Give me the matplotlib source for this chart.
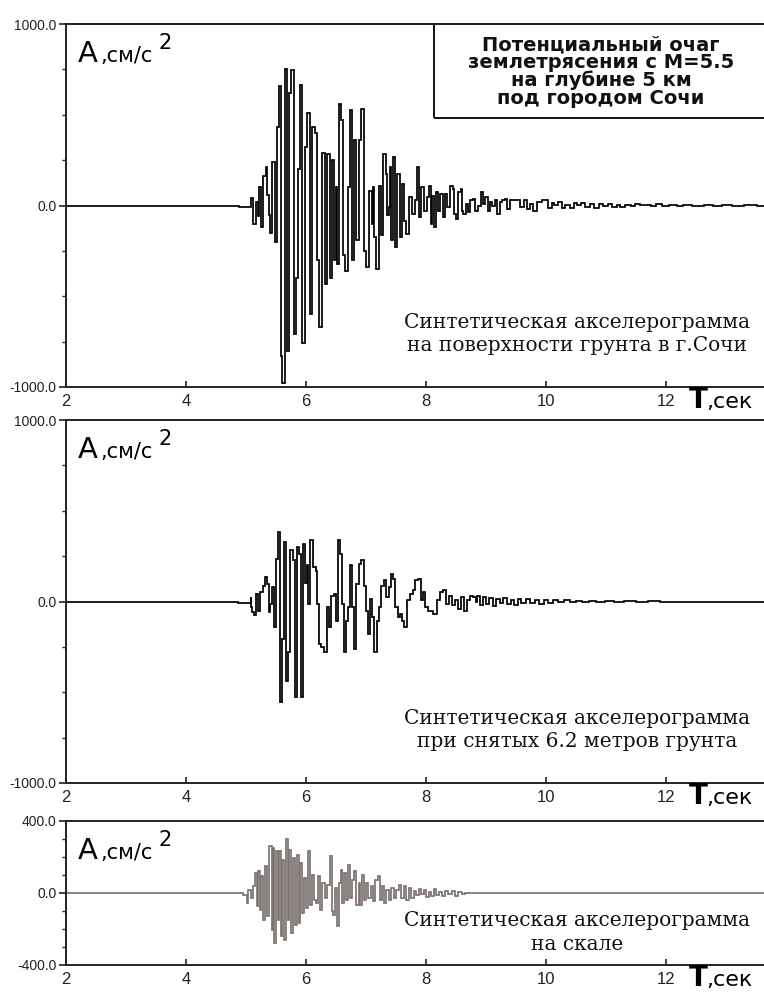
import matplotlib
matplotlib.use("Agg")
import matplotlib.pyplot as plt
from matplotlib.patches import Rectangle

# ---------------- data ----------------
# Trace 1: synthetic accelerogram at the ground surface in Sochi
t_surface = [2.00, 4.87, 4.88, 5.08, 5.09, 5.15, 5.18, 5.21, 5.23, 5.27, 5.31, 5.34, 5.36, 5.39,
             5.42, 5.46, 5.50, 5.54, 5.57, 5.59, 5.62, 5.67, 5.71, 5.73, 5.78, 5.82, 5.84, 5.88,
             5.91, 5.96, 6.00, 6.04, 6.08, 6.12, 6.17, 6.19, 6.23, 6.29, 6.33, 6.38, 6.42, 6.45,
             6.48, 6.51, 6.53, 6.57, 6.60, 6.62, 6.68, 6.71, 6.74, 6.79, 6.82, 6.86, 6.90, 6.94,
             6.98, 7.02, 7.08, 7.11, 7.12, 7.15, 7.19, 7.23, 7.26, 7.31, 7.34, 7.36, 7.39, 7.41,
             7.43, 7.46, 7.49, 7.54, 7.58, 7.61, 7.65, 7.69, 7.73, 7.79, 7.83, 7.87, 7.90, 7.94,
             7.98, 8.04, 8.07, 8.09, 8.12, 8.14, 8.18, 8.22, 8.26, 8.29, 8.33, 8.37, 8.43, 8.46,
             8.48, 8.51, 8.57, 8.59, 8.60, 8.64, 8.68, 8.72, 8.76, 8.79, 8.84, 8.89, 8.93, 8.97,
             9.01, 9.04, 9.08, 9.12, 9.17, 9.21, 9.24, 9.29, 9.33, 9.37, 9.43, 9.51, 9.62, 9.65,
             9.71, 9.76, 9.82, 9.87, 9.98, 10.07, 10.12, 10.16, 10.25, 10.28, 10.36, 10.44, 10.48,
             10.55, 10.60, 10.70, 10.76, 10.85, 10.90, 11.00, 11.05, 11.15, 11.22, 11.26, 11.38,
             11.45, 11.52, 11.62, 11.70, 11.80, 11.86, 12.00, 12.10, 12.25, 12.33, 12.55, 12.70,
             12.85, 13.00, 13.20, 13.40, 13.63]
a_surface = [0, 0, -10, -10, 40, -100, 20, -60, 100, -120, 160, 210, 60, -50,
             -150, 240, -200, 430, 660, -830, -980, 750, -800, 620, 745, -710, -400, 200,
             663, -760, 320, 510, -600, 433, 400, -300, -670, 290, -430, 285, -400, 250,
             -300, 100, -320, 560, 470, -270, -360, 100, 525, -300, 360, -190, 360, 534,
             -250, -340, 80, -100, 100, -175, -350, 110, -160, 285, 175, -50, -10, 210,
             -190, 267, -230, 175, -175, 120, -83, -157, 46, -46, 28, 212, -64, 101,
             -28, 46, 110, -100, 50, -120, 74, -28, 64, -64, 64, -9, 110, 90,
             -46, -74, 74, 90, -30, -46, 9, -37, 28, 37, -28, 0, 74, 9,
             46, -28, 18, 0, 28, -46, 18, 28, 37, -18, 31, 28, -9, 28,
             -18, 9, -28, 18, 28, -13, 15, 2, 20, -15, 4, -12, 15,
             3, 12, -8, 6, -14, 8, -2, 10, -6, 5, -10, 1,
             -4, 8, 2, 5, -3, 6, -1, 3, -3, 4, 0, 3,
             -2, 2, -1, 1, 0]

# Trace 2: after removing 6.2 m of soil
t_stripped = [2.00, 4.87, 4.871, 5.07, 5.08, 5.09, 5.12, 5.15, 5.19, 5.22, 5.26, 5.29, 5.33, 5.37,
              5.38, 5.41, 5.44, 5.48, 5.52, 5.56, 5.58, 5.62, 5.65, 5.69, 5.72, 5.76, 5.79, 5.83,
              5.87, 5.90, 5.94, 5.97, 6.01, 6.03, 6.05, 6.09, 6.15, 6.18, 6.20, 6.23, 6.28, 6.32,
              6.37, 6.40, 6.44, 6.48, 6.51, 6.54, 6.58, 6.62, 6.65, 6.69, 6.72, 6.74, 6.79, 6.82,
              6.86, 6.90, 6.94, 6.98, 7.01, 7.05, 7.08, 7.11, 7.16, 7.19, 7.23, 7.28, 7.32, 7.36,
              7.39, 7.43, 7.47, 7.51, 7.54, 7.58, 7.62, 7.66, 7.71, 7.76, 7.80, 7.84, 7.89, 7.93,
              7.97, 8.01, 8.06, 8.09, 8.15, 8.21, 8.26, 8.32, 8.36, 8.40, 8.46, 8.50, 8.56, 8.61,
              8.67, 8.71, 8.76, 8.82, 8.84, 8.87, 8.92, 8.97, 9.02, 9.08, 9.14, 9.20, 9.26, 9.32,
              9.38, 9.44, 9.50, 9.56, 9.62, 9.70, 9.78, 9.85, 9.92, 10.00, 10.08, 10.16, 10.25,
              10.35, 10.45, 10.55, 10.65, 10.78, 10.90, 11.05, 11.20, 11.40, 11.60, 11.80, 12.00,
              13.63]
a_stripped = [0, 0, -9, -9, 24, -31, -59, -77, 42, -50, 52, 88, 134, 98,
              -59, -13, 79, -142, 236, 383, -556, -206, 328, -436, -280, 282, 226, -528,
              300, 263, -528, 319, 100, 200, -13, 337, 190, 170, -13, -234, -252, -280,
              -31, -142, 33, 42, -105, 337, 263, -13, -280, -105, -31, 199, -31, -262,
              98, 208, 227, 88, -50, -179, 15, -87, -280, -105, -31, 88, 116, 24,
              79, 153, 125, -31, -87, -68, -105, -142, 6, 42, 61, 116, 125, 6,
              52, -31, -50, -50, -68, 6, 52, 61, -13, 33, -22, 6, -41, 24,
              -50, 6, 33, 24, -4, 33, -20, 25, -15, 20, -25, 15, -10, 20,
              -15, 10, -20, 12, -8, 15, -10, 8, -12, 10, -6, 8, -5,
              6, -4, 5, -3, 4, -3, 3, -2, 2, -2, 1, 0,
              0]

# Trace 3: at the bedrock
t_rock = [2.00, 4.95, 4.96, 5.01, 5.02, 5.06, 5.09, 5.13, 5.17, 5.19, 5.22, 5.24, 5.27, 5.30,
          5.33, 5.37, 5.41, 5.44, 5.46, 5.48, 5.51, 5.54, 5.57, 5.59, 5.62, 5.65, 5.68, 5.71,
          5.73, 5.77, 5.80, 5.83, 5.86, 5.89, 5.92, 5.94, 5.98, 6.01, 6.05, 6.08, 6.11, 6.14,
          6.18, 6.22, 6.25, 6.29, 6.33, 6.37, 6.42, 6.43, 6.47, 6.50, 6.52, 6.57, 6.59, 6.62,
          6.65, 6.69, 6.72, 6.75, 6.79, 6.82, 6.86, 6.89, 6.92, 6.96, 6.98, 7.02, 7.06, 7.09,
          7.13, 7.18, 7.22, 7.24, 7.29, 7.32, 7.36, 7.40, 7.44, 7.48, 7.52, 7.57, 7.61, 7.65,
          7.69, 7.73, 7.78, 7.82, 7.86, 7.90, 7.94, 7.98, 8.02, 8.07, 8.11, 8.15, 8.19, 8.23,
          8.29, 8.34, 8.40, 8.46, 8.51, 8.57, 8.62, 8.68, 13.63]
a_rock = [0, 0, -9, -9, -56, 19, -28, 37, 111, -74, 120, -93, 93, -148,
          148, -130, 259, -204, 250, -278, 231, -148, 231, -241, 185, -259, 300, -148,
          241, -222, 194, -176, 213, -167, 167, -111, 83, -83, 231, -65, 102, -37,
          -56, 93, -93, 56, -28, 46, 204, -102, -120, 28, -185, 56, 126, -56,
          111, -37, 157, -28, 74, 120, -65, 56, -65, 102, -37, 56, -28, 37,
          -46, 74, 93, -37, 37, -56, 19, -37, 28, -28, 19, 46, -28, 37,
          -37, 28, -30, 10, -12, 25, -8, 18, -22, 5, -15, 20, -10, 8,
          -18, 12, -5, 10, -14, 6, -8, 0, 0]

x_ticks = [2, 4, 6, 8, 10, 12]
x_ticklabels = ["2", "4", "6", "8", "10", "12"]
ylim_big = 1000.0
ylim_small = 400.0

header_lines = ["Потенциальный очаг", "землетрясения с M=5.5",
                "на глубине 5 км", "под городом Сочи"]
captions = [["Синтетическая акселерограмма", "на поверхности грунта в г.Сочи"],
            ["Синтетическая акселерограмма", "при снятых 6.2 метров грунта"],
            ["Синтетическая акселерограмма", "на скале"]]

# ---------------- layout ----------------
W, H = 764, 992
fig = plt.figure(figsize=(W / 100, H / 100), dpi=100)
fig.patch.set_facecolor("white")

NUM = ["Liberation Sans", "DejaVu Sans"]
SANS = ["DejaVu Sans"]
SERIF = ["DejaVu Serif", "Liberation Serif"]

def px_axes(left, top, right, bottom):
    return fig.add_axes([left / W, 1 - bottom / H, (right - left) / W, (bottom - top) / H])

panels = [
    dict(box=(66, 24, 764, 387), t=t_surface, a=a_surface, lim=ylim_big, color="black",
         minor=250, cap=captions[0], capy=(0.179, 0.113)),
    dict(box=(66, 420, 764, 783), t=t_stripped, a=a_stripped, lim=ylim_big, color="black",
         minor=250, cap=captions[1], capy=(0.179, 0.113)),
    dict(box=(66, 821, 764, 965), t=t_rock, a=a_rock, lim=ylim_small, color="#7b7371",
         minor=100, cap=captions[2], capy=(0.3125, 0.139)),
]

for i, p in enumerate(panels):
    ax = px_axes(*p["box"])
    ax.set_facecolor("white")
    ax.plot(p["t"], p["a"], color=p["color"], lw=1.25, drawstyle="steps-mid",
            solid_joinstyle="miter")
    ax.set_xlim(2, 2 + (764 - 66) / 60)
    lim = p["lim"]
    ax.set_ylim(-lim, lim)
    ax.spines["right"].set_visible(False)
    for s in ["left", "top", "bottom"]:
        ax.spines[s].set_linewidth(1.4)
        ax.spines[s].set_color("#222222")
    ax.set_xticks(x_ticks)
    ax.set_xticklabels(x_ticklabels, fontfamily=NUM, fontsize=12)
    ax.tick_params(axis="x", direction="in", length=4, width=1.2, pad=5, colors="#222222")
    ax.set_yticks([lim, 0, -lim])
    ax.set_yticklabels([f"{lim:.1f}", "0.0", f"{-lim:.1f}"], fontfamily=NUM, fontsize=10)
    ax.set_yticks([v for v in (-3 * p["minor"], -2 * p["minor"], -p["minor"],
                               p["minor"], 2 * p["minor"], 3 * p["minor"]) if abs(v) < lim],
                  minor=True)
    ax.tick_params(axis="y", which="major", direction="out", length=5, width=1.2, pad=2,
                   colors="#222222")
    ax.tick_params(axis="y", which="minor", direction="out", length=3, width=1.0,
                   colors="#222222")

    # A, cm/s^2 label
    ax.annotate("A", xy=(0, 1), xycoords="axes fraction", xytext=(12, -38),
                textcoords="offset pixels", fontsize=21, fontfamily=SANS, va="baseline",
                ha="left")
    ax.annotate(",см/с", xy=(0, 1), xycoords="axes fraction", xytext=(34, -38),
                textcoords="offset pixels", fontsize=15, fontfamily=SANS, va="baseline",
                ha="left")
    ax.annotate("2", xy=(0, 1), xycoords="axes fraction", xytext=(92, -25),
                textcoords="offset pixels", fontsize=15, fontfamily=SANS, va="baseline",
                ha="left")

    # T, sec label
    ax.annotate("T", xy=(1, 0), xycoords="axes fraction", xytext=(-75, -21),
                textcoords="offset pixels", fontsize=20, fontweight="bold", fontfamily=SANS,
                va="baseline", ha="left")
    ax.annotate(",сек", xy=(1, 0), xycoords="axes fraction", xytext=(-58, -21),
                textcoords="offset pixels", fontsize=16, fontfamily=SANS, va="baseline",
                ha="left")

    # caption
    for line, yy in zip(p["cap"], p["capy"]):
        ax.text(0.732, yy, line, transform=ax.transAxes, ha="center", va="center",
                fontsize=14.5, fontfamily=SERIF, color="#111111")

    if i == 0:
        bx0 = (434 - 66) / 698
        by0 = 1 - (118 - 24) / 363
        ax.add_patch(Rectangle((bx0, by0), 1.02 - bx0, 1.0 - by0, transform=ax.transAxes,
                               fill=False, lw=1.4, ec="#111111", clip_on=False))
        for k, line in enumerate(header_lines):
            yy = 1 - (45 + 17.7 * k - 24) / 363
            ax.text((601 - 66) / 698, yy, line, transform=ax.transAxes, ha="center",
                    va="center", fontsize=14, fontweight="bold", fontfamily=SANS,
                    color="#111111")

fig.savefig("out.png", dpi=100, facecolor="white")
